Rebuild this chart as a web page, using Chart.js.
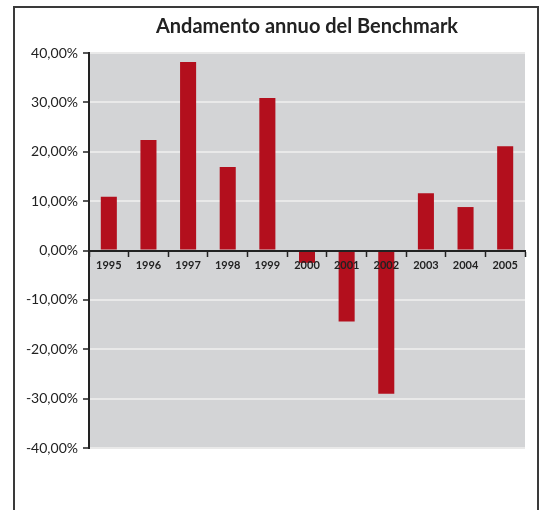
<!DOCTYPE html>
<html>
<head>
<meta charset="utf-8">
<script src="https://cdn.jsdelivr.net/npm/chart.js@4.4.0/dist/chart.umd.min.js"></script>
<style>
  body { margin: 0; background: #fff; }
  #wrap { position: relative; width: 548px; height: 510px; }
  #frame { position: absolute; left: 13px; top: 6px; width: 526px; height: 520px;
           border: 2px solid #3a3a3a; box-sizing: border-box; }
  canvas { position: absolute; left: 0; top: 0; }
</style>
</head>
<body>
<div id="wrap">
  <div id="frame"></div>
  <canvas id="myChart" width="548" height="510"></canvas>
</div>
<script>
var chartTitle = 'Andamento annuo del Benchmark';
var years = ['1995', '1996', '1997', '1998', '1999', '2000', '2001', '2002', '2003', '2004', '2005'];
var returns = [10.9, 22.4, 38.2, 16.9, 30.9, -2.5, -14.4, -29.0, 11.6, 8.8, 21.1];
var yMin = -40, yMax = 40, yStep = 10;

// gray plot background + title centred over the plot
var plotBg = {
    id: 'plotBg',
    beforeDraw: function(chart) {
        var a = chart.chartArea, c = chart.ctx;
        c.save();
        c.fillStyle = '#d3d4d6';
        c.fillRect(a.left, a.top, a.right - a.left, a.bottom - a.top);
        c.restore();
    },
    afterDraw: function(chart) {
        var a = chart.chartArea, c = chart.ctx;
        c.save();
        c.font = 'bold 20px Lato';
        c.fillStyle = '#222';
        c.textAlign = 'center';
        c.textBaseline = 'middle';
        c.fillText(chartTitle, (a.left + a.right) / 2, 27);
        c.restore();
    }
};

var ctx = document.getElementById("myChart").getContext('2d');
var myChart = new Chart(ctx, {
    type: 'bar',
    data: {
        labels: years,
        datasets: [{
            label: 'Benchmark',
            data: returns,
            backgroundColor: '#b30f1d',
            barPercentage: 0.45,
            categoryPercentage: 0.9
        }]
    },
    options: {
        responsive: false,
        animation: false,
        layout: { padding: { left: 0, right: 23, top: 53, bottom: 62 } },
        plugins: { legend: { display: false }, tooltip: { enabled: false } },
        scales: {
            x: {
                position: { y: 0 },
                grid: { z: 1, offset: true, drawOnChartArea: false, drawTicks: true, tickLength: 5, tickColor: '#222', tickWidth: 1.5 },
                border: { z: 1, display: true, color: '#222', width: 2 },
                ticks: { z: 1, color: '#222', font: { family: 'Lato', weight: 'bold', size: 11 }, padding: 3, maxRotation: 0, autoSkip: false }
            },
            y: {
                min: yMin,
                max: yMax,
                afterFit: function(scale) { scale.width = 89; },
                grid: {
                    color: function(c) { return c.tick && c.tick.value === 0 ? 'rgba(0,0,0,0)' : '#e9e9e9'; },
                    lineWidth: 2,
                    drawTicks: true,
                    tickLength: 6,
                    tickColor: '#222',
                    tickWidth: 1.5
                },
                border: { display: true, color: '#222', width: 2 },
                ticks: {
                    stepSize: yStep,
                    color: '#222',
                    padding: 5,
                    font: { family: 'Lato', size: 14 },
                    callback: function(v) { return v.toFixed(2).replace('.', ',') + '%'; }
                }
            }
        }
    },
    plugins: [plotBg]
});
</script>
</body>
</html>
